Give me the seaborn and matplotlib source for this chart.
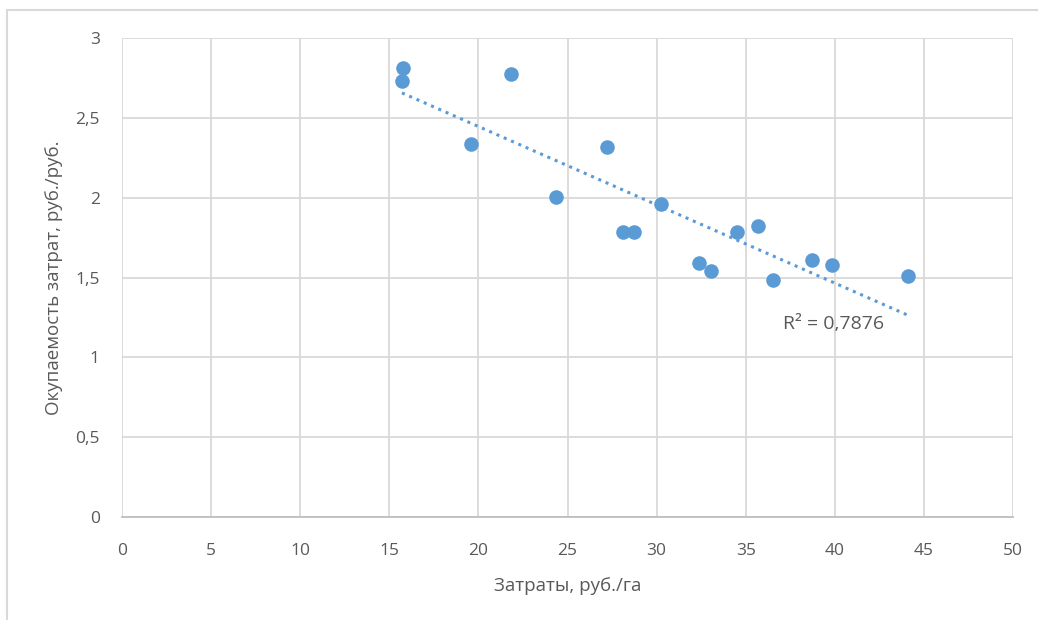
import matplotlib.pyplot as plt
import numpy as np
import pandas as pd
import seaborn as sns
from matplotlib.lines import Line2D

# data
zatraty = [15.77, 15.71, 21.83, 19.58, 24.35, 27.22, 28.11, 28.73, 30.25,
           32.38, 33.05, 34.51, 35.69, 36.53, 38.72, 39.84, 44.11]
okupaemost = [2.81, 2.73, 2.775, 2.335, 2.005, 2.317, 1.785, 1.785, 1.96,
              1.59, 1.54, 1.785, 1.822, 1.484, 1.609, 1.578, 1.509]
x_ticks = [0, 5, 10, 15, 20, 25, 30, 35, 40, 45, 50]
y_ticks = [0, 0.5, 1, 1.5, 2, 2.5, 3]
y_labels = ["0", "0,5", "1", "1,5", "2", "2,5", "3"]
r2_text = "R² = 0,7876"

df = pd.DataFrame({"x": zatraty, "y": okupaemost})

sns.set_style("white")
plt.rcParams["font.family"] = ["Open Sans", "DejaVu Sans"]

blue = "#5b9bd5"
grey_text = "#595959"
grid_c = "#d9d9d9"

fig = plt.figure(figsize=(10.38, 6.2), dpi=100)
ax = fig.add_axes([0.1175, 0.1661, 0.8585, 0.7726])

sns.scatterplot(data=df, x="x", y="y", ax=ax, color=blue, s=110,
                edgecolor=blue, linewidth=0, zorder=3)

# linear trendline over the data range
k, b = np.polyfit(df["x"], df["y"], 1)
xs = np.array([df["x"].min(), df["x"].max()])
sns.lineplot(x=xs, y=k * xs + b, ax=ax, color=blue, linestyle=(0, (1, 1.6)),
             linewidth=2.2, zorder=2)

ax.set_xlim(0, 50)
ax.set_ylim(0, 3)
ax.set_xticks(x_ticks)
ax.set_yticks(y_ticks)
ax.set_yticklabels(y_labels)
ax.grid(True, color=grid_c, linewidth=1.3)
ax.set_axisbelow(True)
for s in ["top", "right", "left"]:
    ax.spines[s].set_visible(False)
ax.spines["bottom"].set_color("#bfbfbf")
ax.spines["bottom"].set_linewidth(1.3)
ax.tick_params(length=0, labelsize=12.5, colors=grey_text)
ax.tick_params(axis="x", pad=19)
ax.tick_params(axis="y", pad=16)

ax.set_xlabel("Затраты, руб./га", fontsize=13.5, color=grey_text, labelpad=13)
ax.set_ylabel("Окупаемость затрат, руб./руб.", fontsize=13.5, color=grey_text,
              labelpad=9)

ax.text(37.1, 1.21, r2_text, fontsize=14, color=grey_text, va="center")

# chart area border
fig.add_artist(Line2D([7 / 1038, 7 / 1038], [0, 1 - 10 / 620],
                      transform=fig.transFigure, color="#d9d9d9", lw=1.5))
fig.add_artist(Line2D([7 / 1038, 1], [1 - 10 / 620, 1 - 10 / 620],
                      transform=fig.transFigure, color="#d9d9d9", lw=1.5))

plt.savefig("out.png", dpi=100)
